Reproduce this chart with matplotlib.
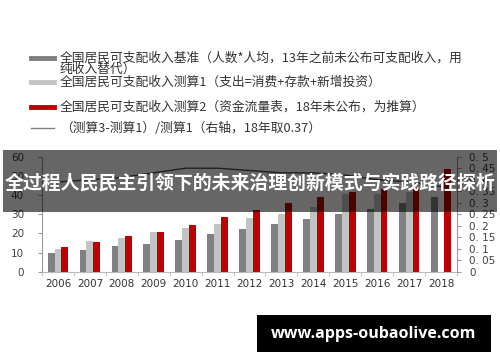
import numpy as np
import matplotlib
matplotlib.use("Agg")
import matplotlib.pyplot as plt
from matplotlib.patches import Rectangle
from matplotlib.lines import Line2D

plt.rcParams['font.family'] = ['Noto Sans CJK SC', 'DejaVu Sans']

# data
years = ["2006", "2007", "2008", "2009", "2010", "2011", "2012",
         "2013", "2014", "2015", "2016", "2017", "2018"]
base_income = [9.6, 11.3, 13.2, 14.6, 16.7, 19.7, 22.4, 24.9, 27.5, 30.1, 32.7, 35.7, 39.1]
calc1_income = [12.0, 16.2, 17.6, 20.5, 22.6, 24.9, 28.2, 30.3, 33.6, 40.5, 40.5, 41.8, np.nan]
calc2_income = [12.9, 15.7, 18.6, 20.5, 24.3, 28.3, 32.0, 35.7, 38.8, 41.5, 43.0, 43.5, 53.6]
gap_ratio = [0.39, 0.40, 0.41, 0.43, 0.45, 0.45, 0.44, 0.43, 0.43, 0.42, 0.40, 0.39, 0.37]

left_ticks = [0, 10, 20, 30, 40, 50, 60]
right_ticks = [0, 0.05, 0.1, 0.15, 0.2, 0.25, 0.3, 0.35, 0.4, 0.45, 0.5]
right_labels = ["0", "0. 05", "0. 1", "0. 15", "0. 2", "0. 25", "0. 3",
                "0. 35", "0. 4", "0. 45", "0. 5"]

legend_labels = [
    ["全国居民可支配收入基准（人数*人均，13年之前未公布可支配收入，用", "纯收入替代）"],
    ["全国居民可支配收入测算1（支出=消费+存款+新增投资）"],
    ["全国居民可支配收入测算2（资金流量表，18年未公布，为推算）"],
    ["（测算3-测算1）/测算1（右轴，18年取0.37）"],
]
title = "全过程人民民主引领下的未来治理创新模式与实践路径探析"
watermark = "www.apps-oubaolive.com"

c_dark = "#808080"
c_light = "#c3c3c3"
c_red = "#c00000"
c_line = "#505050"
c_text = "#404040"

fig = plt.figure(figsize=(5, 3.62), dpi=100)
ax = fig.add_axes([0.084, 0.2494, 0.83, 0.3177])

x = np.arange(len(years))
w = 0.215
ax.bar(x - w, base_income, w, color=c_dark)
ax.bar(x, calc1_income, w, color=c_light)
ax.bar(x + w, calc2_income, w, color=c_red)
ax.set_xlim(-0.5, len(years) - 0.5)
ax.set_ylim(0, 60)
ax.set_yticks(left_ticks)
ax.set_xticks(x)
ax.set_xticklabels(years)
ax.set_xticks(np.arange(len(years) + 1) - 0.5, minor=True)
ax.tick_params(axis='x', which='major', length=0, pad=5, labelsize=7.5, labelcolor="#333333")
ax.tick_params(axis='x', which='minor', length=3, color="#bbbbbb")
ax.tick_params(axis='y', length=3, color="#999999", labelsize=7.5, labelcolor=c_text, pad=10)
for lab in ax.get_xticklabels() + ax.get_yticklabels():
    lab.set_family('DejaVu Sans')
ax.spines['top'].set_visible(False)
ax.spines['right'].set_visible(False)
ax.spines['left'].set_color("#999999")
ax.spines['bottom'].set_color("#bbbbbb")

ax2 = ax.twinx()
ax2.plot(x, gap_ratio, color=c_line, lw=1.0)
ax2.set_ylim(0, 0.5)
ax2.set_yticks(right_ticks)
ax2.set_yticklabels(right_labels)
ax2.tick_params(axis='y', length=3, color="#999999", labelsize=7.5, labelcolor=c_text, pad=6)
for lab in ax2.get_yticklabels():
    lab.set_family('DejaVu Sans')
for s in ['top', 'left', 'bottom']:
    ax2.spines[s].set_visible(False)
ax2.spines['right'].set_color("#999999")

# legend drawn by hand at the top
H = 362.0
W = 500.0
handle_styles = [(c_dark, 3.5), (c_light, 3.5), (c_red, 3.5), ("#808080", 1.0)]
legend_y = [58, 82, 107, 128]
for (col, lw), yy, lines in zip(handle_styles, legend_y, legend_labels):
    fy = 1 - yy / H
    fig.add_artist(Line2D([31 / W, 54 / W], [fy, fy], color=col, lw=lw))
    for i, txt in enumerate(lines):
        fig.text(60 / W, 1 - (yy + 11.5 * i) / H, txt, fontsize=9.2, color="#333333",
                 va='center')

# dark banner with title
fig.add_artist(Rectangle((3 / W, 1 - 212 / H), 494 / W, 62 / H, transform=fig.transFigure,
                         facecolor="black", alpha=0.6, zorder=10))
fig.text(0.5, 1 - 183 / H, title, fontsize=13.6, fontweight='bold', color="white",
         ha='center', va='center', zorder=11)

# watermark box
fig.add_artist(Rectangle((257 / W, 1 - 352 / H), 234 / W, 37 / H, transform=fig.transFigure,
                         facecolor="black", zorder=10))
fig.text(374 / W, 1 - 334 / H, watermark, fontsize=11.5, fontweight='bold', color="white",
         family='Open Sans', ha='center', va='center', zorder=11)

fig.savefig("out.png", dpi=100)
